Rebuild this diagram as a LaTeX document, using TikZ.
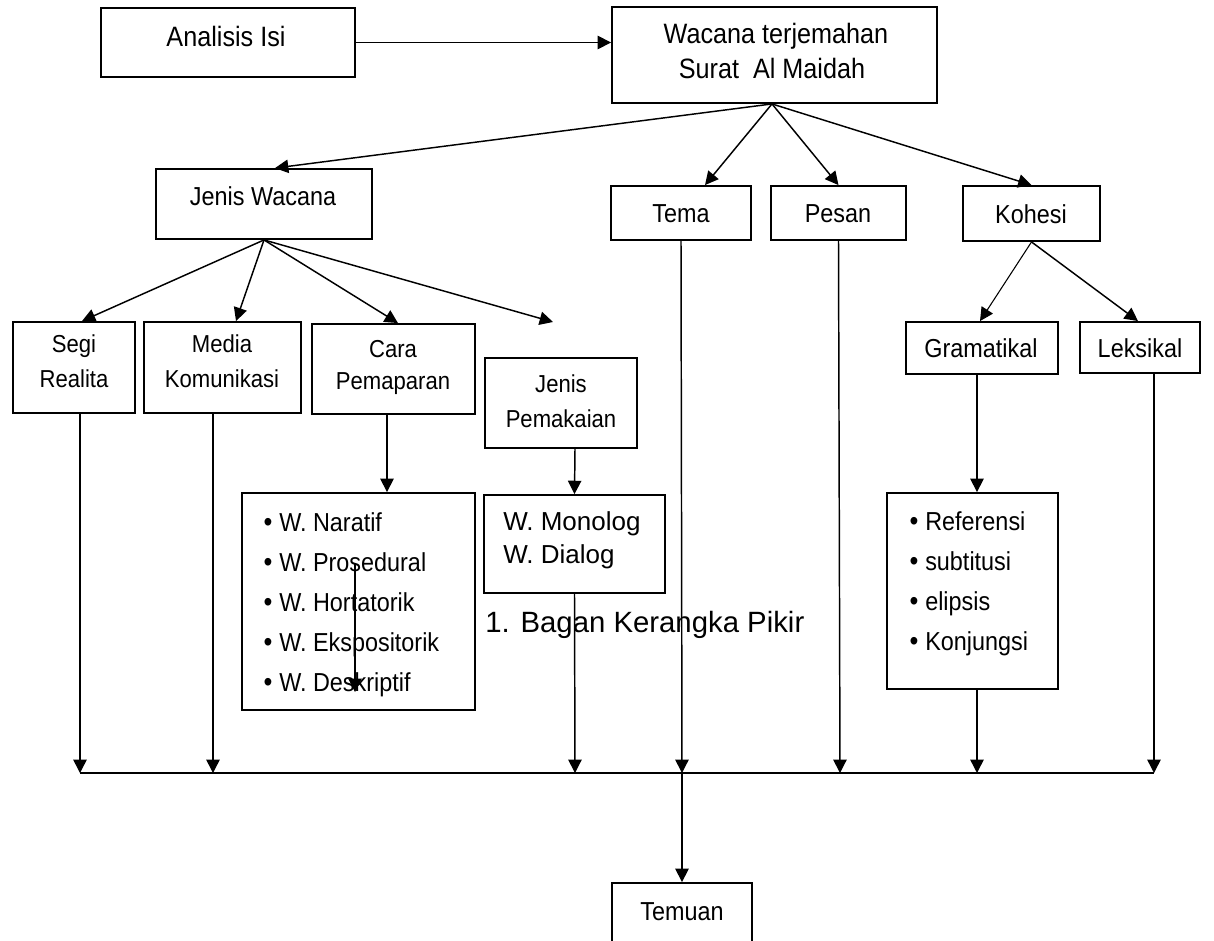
\documentclass[tikz,border=0pt]{standalone}
\usepackage{fontspec}
\setmainfont{Liberation Sans}
\newfontfamily\nf[FakeStretch=0.9]{Liberation Sans}
\usetikzlibrary{arrows.meta,calc}
\tikzset{
  bx/.style={draw, line width=1.4pt, inner sep=0pt, rectangle},
  ln/.style={line width=1.1pt},
  arr/.style={line width=1.1pt, -{Triangle[length=10pt,width=10pt]}},
  tx/.style={anchor=base, inner sep=0pt, font=\nf\fontsize{19.5}{20}\selectfont},
  txbig/.style={tx, font=\nf\fontsize{21}{22}\selectfont},
  txsm/.style={tx, font=\nf\fontsize{18.4}{20}\selectfont},
  txl/.style={anchor=base west, inner sep=0pt, font=\nf\fontsize{19.5}{20}\selectfont},
  txa/.style={anchor=base west, inner sep=0pt, font=\fontsize{19.5}{20}\selectfont},
  captxt/.style={anchor=base west, inner sep=0pt, font=\fontsize{22}{24}\selectfont},
  bul/.style={anchor=base, inner sep=0pt, font=\nf\fontsize{21}{20}\selectfont},
}
\newcommand\mkbox[5]{\node[bx, minimum width={(#4-#2)*0.75pt}, minimum height={(#5-#3)*0.75pt}] (#1) at ({(#2+#4)/2},{(#3+#5)/2}) {};}
\begin{document}
\begin{tikzpicture}[x=0.75pt,y=-0.75pt]
\useasboundingbox (0,0) rectangle (1214,940);
\clip (0,0) rectangle (1214,940);
\fill[white] (0,0) rectangle (1214,940);
% boxes
\mkbox{ana}{101}{8}{355}{77}
\mkbox{wac}{612}{7}{937}{103}
\mkbox{jw}{156}{169}{372}{239}
\mkbox{tema}{611}{186}{751}{240}
\mkbox{pesan}{771}{186}{906}{240}
\mkbox{koh}{963}{186}{1100}{241}
\mkbox{segi}{13}{322}{135}{413}
\mkbox{media}{144}{322}{301}{413}
\mkbox{cara}{312}{324}{475}{414}
\mkbox{jp}{485}{358}{637}{448}
\mkbox{nar}{242}{493}{475}{710}
\mkbox{mono}{484}{495}{665}{593}
\mkbox{gram}{906}{322}{1058}{374}
\mkbox{lek}{1080}{322}{1200}{373}
\mkbox{ref}{887}{493}{1058}{689}
\mkbox{tem}{612}{883}{752}{960}
% texts
\node[txbig] (anaT) at (226,46) {Analisis Isi};
\node[txbig] (wacT1) at (776,43) {Wacana terjemahan};
\node[txbig] (wacT2) at (772,78) {Surat\ \ Al Maidah};
\node[tx] (jwT) at (263,205) {Jenis Wacana};
\node[tx] (temaT) at (681,222) {Tema};
\node[tx] (pesanT) at (838,222) {Pesan};
\node[tx] (kohT) at (1031,223) {Kohesi};
\node[txsm] (segiT1) at (74,352) {Segi};
\node[txsm] (segiT2) at (74,387) {Realita};
\node[txsm] (mediaT1) at (222,352) {Media};
\node[txsm] (mediaT2) at (222,387) {Komunikasi};
\node[txsm] (caraT1) at (393,357) {Cara};
\node[txsm] (caraT2) at (393,389) {Pemaparan};
\node[txsm] (jpT1) at (561,392) {Jenis};
\node[txsm] (jpT2) at (561,427) {Pemakaian};
\node[tx] (gramT) at (981,357) {Gramatikal};
\node[tx] (lekT) at (1140,357) {Leksikal};
\node[tx] (temT) at (682,920) {Temuan};
% list W.
\foreach \t/\yy [count=\i] in {W. Naratif/531, W. Prosedural/571, W. Hortatorik/611, W. Ekspositorik/651, W. Deskriptif/691}{
  \node[bul] (narB\i) at (268,\yy) {\textbullet};
  \node[txl] (narT\i) at (279,\yy) {\t};
}
\foreach \t/\yy [count=\i] in {Referensi/530, subtitusi/570, elipsis/610, Konjungsi/650}{
  \node[bul] (refB\i) at (914,\yy) {\textbullet};
  \node[txl] (refT\i) at (925,\yy) {\t};
}
\node[txa] (monoT1) at (503,530) {W. Monolog};
\node[txa] (monoT2) at (503,563) {W. Dialog};
\node[captxt] (capT) at (485,632) {1. Bagan Kerangka Pikir};
% coordinates
\coordinate (wacS) at ($(wac.south)+(-2.5,0)$);
\coordinate (jfree) at (553,322);
\coordinate (w1) at (355,563);
\coordinate (w2) at (355,692);
\coordinate (b1) at (80,773);
\coordinate (b2) at (213,773);
\coordinate (b3) at (575,773);
\coordinate (b4) at (682,773);
\coordinate (b5) at (840,773);
\coordinate (b6) at (977,773);
\coordinate (b7) at (1154,773);
% connectors
\draw[arr] (ana.east) -- (ana.east -| wac.west);
\draw[arr] (wacS) -- ($(jw.north)+(11,0)$);
\draw[arr] (wacS) -- ($(tema.north)+(24,0)$);
\draw[arr] (wacS) -- (pesan.north);
\draw[arr] (wacS) -- (koh.north);
\draw[arr] (jw.south) -- ($(segi.north)+(8,0)$);
\draw[arr] (jw.south) -- ($(media.north)+(13.5,0)$);
\draw[arr] (jw.south) -- ($(cara.north)+(4.5,0)$);
\draw[arr] (jw.south) -- (jfree);
\draw[arr] ($(cara.south)+(-6.5,0)$) -- ($(nar.north)+(28.5,0)$);
\draw[arr] ($(jp.south)+(14,0)$) -- (mono.north);
\draw[arr, line width=0.8pt] (w1) -- (w2);
\draw[arr, line width=0.8pt] (koh.south) -- ($(gram.north)+(-2,0)$);
\draw[arr] (koh.south) -- ($(lek.north)+(-2,0)$);
\draw[arr] ($(gram.south)+(-5,0)$) -- ($(ref.north)+(4.5,0)$);
\draw[arr] ($(segi.south)+(6,0)$) -- (b1);
\draw[arr] ($(media.south)+(-9.5,0)$) -- (b2);
\draw[arr] (mono.south) -- (b3);
\draw[arr] (tema.south) -- (b4);
\draw[arr] (pesan.south) -- (b5);
\draw[arr] ($(ref.south)+(4.5,0)$) -- (b6);
\draw[arr] ($(lek.south)+(14,0)$) -- (b7);
\draw[ln] (b1) -- (b7);
\draw[arr] (b4) -- (tem.north);
\end{tikzpicture}
\end{document}
